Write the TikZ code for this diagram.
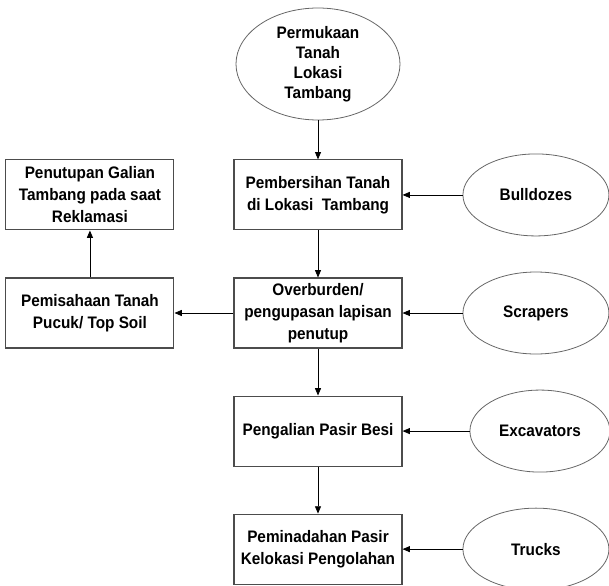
\documentclass[tikz,border=0pt]{standalone}
\usepackage{fontspec}
\setmainfont{Liberation Sans}[FakeStretch=0.92]
\usetikzlibrary{arrows.meta, positioning, shapes.geometric}

\definecolor{boxgray}{gray}{0.3}
\definecolor{ovalgray}{gray}{0.4}

\begin{document}
\begin{tikzpicture}[
    > = {Triangle[length=5.5pt, width=4.5pt]}, % arrow head style
    node distance = 35.25pt, % distance between boxes
    line width = 0.6pt,
    font = \fontsize{12.5}{16.5}\selectfont\bfseries
]

\tikzset{
    process/.style = {
        draw = boxgray,
        line width = 0.8pt,
        minimum width = 126pt,
        minimum height = 52.5pt,
        inner sep = 2pt,
        align = center
    },
    tool/.style = {
        ellipse,
        draw = ovalgray,
        minimum width = 109.5pt,
        minimum height = 61.5pt,
        inner sep = 0pt
    },
}

\useasboundingbox (-238.5pt, 48pt) rectangle (218.25pt, -390.75pt);

% main column
\node[ellipse, draw = ovalgray, minimum width = 123pt, minimum height = 84pt,
    inner sep = 0pt, align = center,
    font = \fontsize{12.5}{15}\selectfont\bfseries] (surface)
    {Permukaan\\Tanah\\Lokasi\\Tambang};
\node[process] (clearing) [below=29.25pt of surface] {Pembersihan Tanah\\di Lokasi\ \ Tambang};
\node[process] (stripping) [below=of clearing] {Overburden/\\pengupasan lapisan\\penutup};
\node[process] (digging) [below=of stripping] {Pengalian Pasir Besi};
\node[process] (hauling) [below=of digging] {Peminadahan Pasir\\Kelokasi Pengolahan};

% top soil branch
\node[process] (topsoil) [left=44.25pt of stripping] {Pemisahaan Tanah\\Pucuk/ Top Soil};
\node[process] (closing) [above=of topsoil] {Penutupan Galian\\Tambang pada saat\\Reklamasi};

% equipment
\node[tool] (bulldozer) [right=45pt of clearing] {Bulldozes};
\node[tool] (scraper) [right=45pt of stripping] {Scrapers};
\node[tool, minimum width = 105pt] (excavator) [right=50.25pt of digging] {Excavators};
\node[tool] (truck) [right=45pt of hauling] {Trucks};

\path[->] (surface) edge (clearing);
\path[->] (clearing) edge (stripping);
\path[->] (stripping) edge (digging);
\path[->] (digging) edge (hauling);

\path[->] (stripping) edge (topsoil);
\path[->] (topsoil) edge (closing);

\path[->] (bulldozer) edge (clearing);
\path[->] (scraper) edge (stripping);
\path[->] (excavator) edge (digging);
\path[->] (truck) edge (hauling);
\end{tikzpicture}
\end{document}
